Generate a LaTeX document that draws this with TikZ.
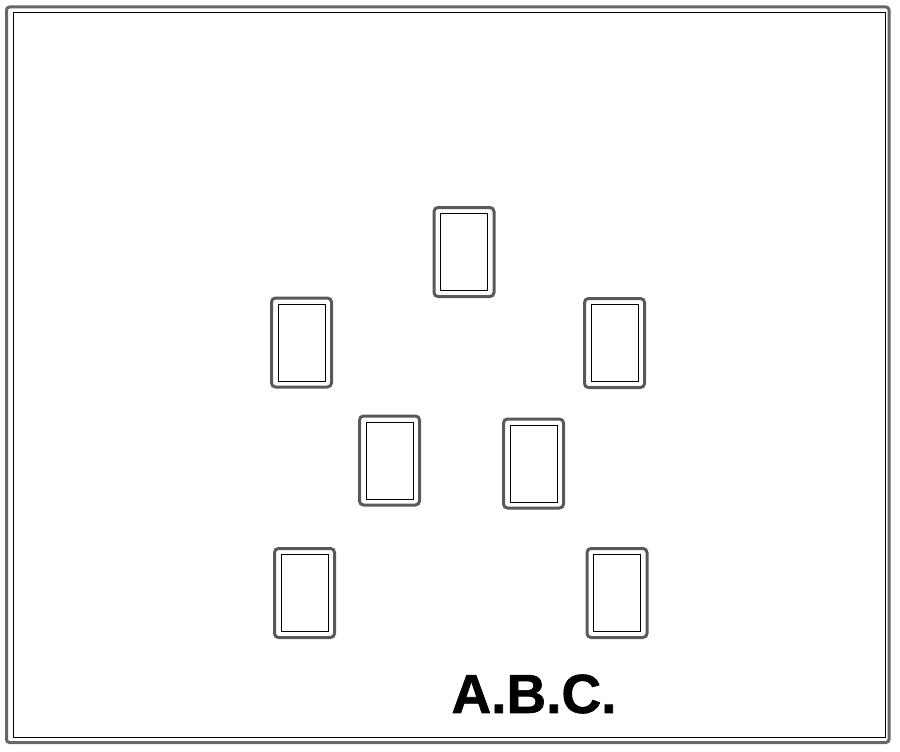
\documentclass[tikz,border=0pt]{standalone}
\usepackage{fontspec}
\setmainfont{Liberation Sans}
\newfontfamily\abcfont{Liberation Sans Bold}[FakeBold=1.2]
\begin{document}
\begin{tikzpicture}[
		x=1pt, y=-1pt,
		slot/.style={draw=black!65, line width=3pt, rounded corners=4pt, minimum width=60pt, minimum height=89pt, inner sep=0pt},
		slotin/.style={draw=black, line width=1pt, minimum width=47pt, minimum height=77pt, inner sep=0pt}
		]
		\useasboundingbox (0,0) rectangle (900,752);
		% Frame
		\draw[draw=black!60, line width=3pt, rounded corners=3pt] (6.5,7) rectangle (889,742.5);
		\draw[line width=1pt] (13,13) rectangle (885,737);
		% Top row
		\node[slot] (top) at (464,252) {};
		\node[slotin] (topin) at (top) {};
		% Upper pair
		\node[slot] (upleft) at (301.5,342.5) {};
		\node[slotin] (upleftin) at (upleft) {};
		\node[slot] (upright) at (614.5,343) {};
		\node[slotin] (uprightin) at (upright) {};
		% Middle pair
		\node[slot] (midleft) at (389.5,460.5) {};
		\node[slotin] (midleftin) at (midleft) {};
		\node[slot] (midright) at (533.5,463.5) {};
		\node[slotin] (midrightin) at (midright) {};
		% Lower pair
		\node[slot] (lowleft) at (304.5,593) {};
		\node[slotin] (lowleftin) at (lowleft) {};
		\node[slot] (lowright) at (617,593) {};
		\node[slotin] (lowrightin) at (lowright) {};
		% Label
		\node[inner sep=0pt, font=\abcfont\fontsize{55}{60}\selectfont] (abc) at (534,694) {A.B.C.};
	\end{tikzpicture}
\end{document}
